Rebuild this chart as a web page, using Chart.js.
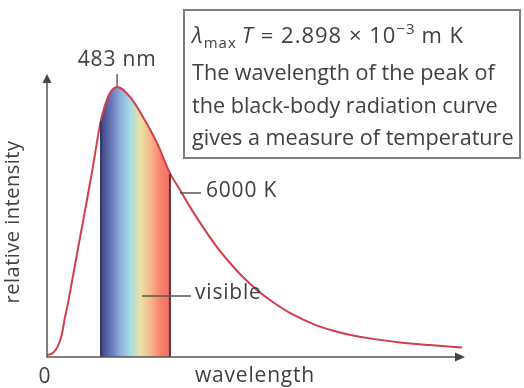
<!DOCTYPE html>
<html>
<head>
<meta charset="utf-8">
<script src="https://cdn.jsdelivr.net/npm/chart.js@4.4.1/dist/chart.umd.min.js"></script>
<style>
  html, body { margin: 0; padding: 0; background: #fff; }
  #wrap { width: 524px; height: 388px; }
</style>
</head>
<body>
<div id="wrap"><canvas id="grafico" width="524" height="388"></canvas></div>
<script>
// black-body curve (wavelength in nm, intensity relative to the peak)
const wavelength = [0, 41, 76, 103, 124, 138, 179, 227, 269, 310, 372, 400, 434, 483, 572, 661, 758, 847, 916, 985, 1075, 1171, 1261, 1350, 1447, 1536, 1674, 1847, 2019, 2225, 2432, 2639, 2859];
const intensity  = [0.007, 0.015, 0.041, 0.085, 0.148, 0.181, 0.300, 0.441, 0.563, 0.685, 0.878, 0.933, 0.978, 1.0, 0.963, 0.889, 0.793, 0.681, 0.619, 0.556, 0.481, 0.407, 0.348, 0.296, 0.248, 0.211, 0.163, 0.119, 0.091, 0.069, 0.054, 0.044, 0.035];

// visible band edges (same units as wavelength)
const bandStart = 372;
const bandEnd = 847;
const bandColors = ['#3f4680', '#6674b6', '#8fb0de', '#a9dce4', '#e9e3a6', '#f8b88a', '#f7836f', '#f06f66'];

const peakLabel = '483 nm';
const tempLabel = '6000 K';
const bandLabel = 'visible';
const xTitle = 'wavelength';
const yTitle = 'relative intensity';
const boxLines = ['The wavelength of the peak of', 'the black-body radiation curve', 'gives a measure of temperature'];

const xMax = 2880;
const yMax = 1.048;

const txtColor = '#404040';
const fontFam = '"Open Sans", Lato, sans-serif';

function bandFill(context) {
  const chart = context.chart;
  const area = chart.chartArea;
  if (!area) return 'transparent';
  const sx = chart.scales.x;
  const w = area.right - area.left;
  const f0 = (sx.getPixelForValue(bandStart) - area.left) / w;
  const f1 = (sx.getPixelForValue(bandEnd) - area.left) / w;
  const g = chart.ctx.createLinearGradient(area.left, 0, area.right, 0);
  g.addColorStop(0, 'rgba(255,255,255,0)');
  g.addColorStop(f0, 'rgba(255,255,255,0)');
  bandColors.forEach((c, i) => {
    g.addColorStop(f0 + (f1 - f0) * i / (bandColors.length - 1), c);
  });
  g.addColorStop(Math.min(1, f1 + 0.0001), 'rgba(255,255,255,0)');
  g.addColorStop(1, 'rgba(255,255,255,0)');
  return g;
}

function arrow(ctx, x, y, dir) {
  ctx.beginPath();
  if (dir === 'up') {
    ctx.moveTo(x, y);
    ctx.lineTo(x - 4.5, y + 9);
    ctx.lineTo(x + 4.5, y + 9);
  } else {
    ctx.moveTo(x, y);
    ctx.lineTo(x - 10, y - 4.5);
    ctx.lineTo(x - 10, y + 4.5);
  }
  ctx.closePath();
  ctx.fill();
}

const extras = {
  id: 'extras',
  afterDatasetsDraw(chart) {
    const ctx = chart.ctx;
    const sx = chart.scales.x, sy = chart.scales.y;
    const area = chart.chartArea;
    ctx.save();

    // band edges
    const edge = (v, color) => {
      const i = wavelength.indexOf(v);
      const px = sx.getPixelForValue(v);
      ctx.strokeStyle = color;
      ctx.lineWidth = 2;
      ctx.beginPath();
      ctx.moveTo(px, sy.getPixelForValue(0));
      ctx.lineTo(px, sy.getPixelForValue(intensity[i]) + 1);
      ctx.stroke();
    };
    edge(bandStart, '#353a68');
    edge(bandEnd, '#5e2f33');

    // axes with arrows
    ctx.strokeStyle = '#555';
    ctx.fillStyle = '#444';
    ctx.lineWidth = 1.5;
    ctx.beginPath();
    ctx.moveTo(area.left, area.top + 4);
    ctx.lineTo(area.left, area.bottom);
    ctx.lineTo(area.right - 4, area.bottom);
    ctx.stroke();
    arrow(ctx, area.left, area.top, 'up');
    arrow(ctx, area.right, area.bottom, 'right');

    // peak tick
    let pk = 0;
    intensity.forEach((v, i) => { if (v > intensity[pk]) pk = i; });
    const pkx = sx.getPixelForValue(wavelength[pk]);
    const pky = sy.getPixelForValue(intensity[pk]);
    ctx.strokeStyle = '#666';
    ctx.lineWidth = 1.5;
    ctx.beginPath();
    ctx.moveTo(pkx, pky);
    ctx.lineTo(pkx, pky - 13);
    ctx.stroke();

    // leaders
    ctx.strokeStyle = '#555';
    ctx.lineWidth = 1.5;
    ctx.beginPath();
    ctx.moveTo(180, 193); ctx.lineTo(201, 193);
    ctx.moveTo(142, 296); ctx.lineTo(191, 296);
    ctx.stroke();

    ctx.fillStyle = txtColor;
    ctx.font = '21px ' + fontFam;
    ctx.letterSpacing = '0.8px';
    ctx.textBaseline = 'middle';
    ctx.textAlign = 'center';
    ctx.fillText(peakLabel, pkx, 60);
    ctx.fillText('0', area.left - 2, 377);
    ctx.fillText(xTitle, 255, 376);
    ctx.textAlign = 'left';
    ctx.fillText(tempLabel, 206, 191);
    ctx.fillText(bandLabel, 195, 293);

    ctx.save();
    ctx.font = '20px ' + fontFam;
    ctx.letterSpacing = '0.5px';
    ctx.translate(13, 222);
    ctx.rotate(-Math.PI / 2);
    ctx.textAlign = 'center';
    ctx.fillText(yTitle, 0, 0);
    ctx.restore();

    // formula box
    ctx.fillStyle = '#fff';
    ctx.fillRect(184, 10, 336, 148);
    ctx.strokeStyle = '#808080';
    ctx.lineWidth = 2;
    ctx.strokeRect(184, 10, 336, 148);

    ctx.fillStyle = txtColor;
    ctx.textBaseline = 'alphabetic';
    ctx.letterSpacing = '1px';
    let x = 192;
    const base = 43;
    const put = (t, font, dy, gap) => {
      ctx.font = font;
      ctx.fillText(t, x, base + (dy || 0));
      x += ctx.measureText(t).width + (gap || 0);
    };
    put('\u03bb', 'italic 22px ' + fontFam);
    put('max', '15px ' + fontFam, 5, 5);
    put('T', 'italic 22px ' + fontFam, 0, 7);
    put('= 2.898 \u00d7 10', '22px ' + fontFam);
    put('\u22123', '15px ' + fontFam, -9, 6);
    put('m K', '22px ' + fontFam);

    ctx.font = '21.6px ' + fontFam;
    ctx.letterSpacing = '0px';
    boxLines.forEach((t, i) => {
      ctx.fillText(t, 192, 80 + i * 32.5);
    });

    ctx.restore();
  }
};

new Chart(document.getElementById('grafico').getContext('2d'), {
  type: 'line',
  data: {
    datasets: [{
      data: wavelength.map((w, i) => ({ x: w, y: intensity[i] })),
      borderColor: '#d13f4a',
      borderWidth: 2,
      pointRadius: 0,
      cubicInterpolationMode: 'monotone',
      fill: 'origin',
      backgroundColor: bandFill
    }]
  },
  options: {
    responsive: false,
    animation: false,
    devicePixelRatio: 1,
    layout: { padding: { left: 47, right: 59, top: 74, bottom: 31 } },
    plugins: { legend: { display: false }, tooltip: { enabled: false } },
    scales: {
      x: { type: 'linear', min: 0, max: xMax, display: false },
      y: { min: 0, max: yMax, display: false }
    }
  },
  plugins: [extras]
});
</script>
</body>
</html>
